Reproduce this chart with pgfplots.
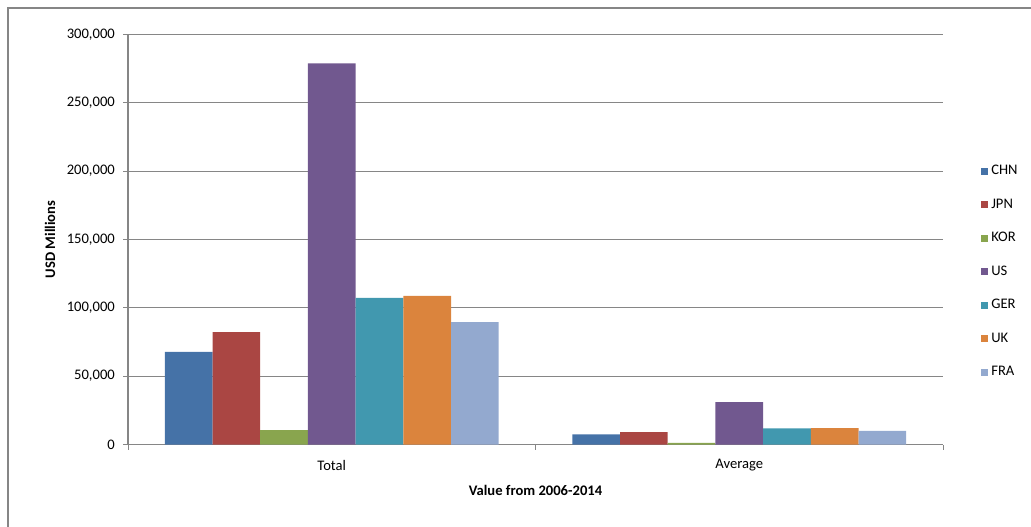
\documentclass[border=0pt]{standalone}
\usepackage{pgfplots}
\pgfplotsset{compat=1.18}
\usepackage{fontspec}
\setmainfont{Carlito}

\definecolor{chn}{HTML}{4572A7}
\definecolor{jpn}{HTML}{AA4643}
\definecolor{kor}{HTML}{89A54E}
\definecolor{usa}{HTML}{71588F}
\definecolor{ger}{HTML}{4198AF}
\definecolor{uk}{HTML}{DB843D}
\definecolor{fra}{HTML}{93A9CF}
\definecolor{axisgray}{HTML}{868686}

\newcommand{\chartfont}{\fontsize{14.6bp}{17bp}\selectfont}

\begin{document}
\begin{tikzpicture}
\useasboundingbox (0,0) rectangle (1031bp,-527bp);
% chart area frame
\draw[axisgray, line width=1.4bp] (8bp,-527bp) -- (8bp,-8bp) -- (1031bp,-8bp);
\begin{axis}[
  at={(128bp,-444.5bp)}, anchor=south west,
  scale only axis, width=815bp, height=410bp,
  font=\chartfont,
  ybar=0pt, bar width=47.7bp,
  xmin=-0.5, xmax=1.5,
  ymin=0, ymax=300000,
  axis x line*=bottom, axis y line*=left,
  axis line style={-, axisgray},
  x axis line style={line width=1.6bp},
  y axis line style={line width=1.3bp},
  tick align=outside,
  major tick length=5bp,
  tick style={axisgray, line width=1bp},
  xtick={-0.5,0.5,1.5}, xticklabels={,,},
  extra x ticks={0,1}, extra x tick labels={Total,Average},
  extra x tick style={major tick length=0pt,
    xticklabel style={anchor=center, yshift=-21bp}},
  ytick={0,50000,...,300000},
  scaled y ticks=false,
  /pgf/number format/.cd, fixed, 1000 sep={,}, assume math mode=true, /pgfplots/.cd,
  yticklabel style={anchor=east, inner sep=0pt, xshift=-8bp},
  ymajorgrids, grid style={axisgray, line width=1bp},
  xlabel={\textbf{Value from 2006-2014}},
  xlabel style={at={(axis description cs:0.5,-0.113)}, anchor=center},
  ylabel={\textbf{USD Millions}},
  ylabel style={at={(axis description cs:-0.0957,0.5)}, anchor=center},
  legend style={draw=none, fill=none, at={(1.0425,0.4215)}, anchor=west,
    font=\chartfont, row sep=20.5bp, column sep=3bp,
    nodes={inner sep=0pt, text height=10bp, text depth=3bp}},
  legend cell align=left,
  legend image code/.code={\fill[#1] (0bp,-3.5bp) rectangle (7.5bp,3.5bp);},
]
\addplot[fill=chn, draw=none] coordinates {(0,67700) (1,7500)};
\addplot[fill=jpn, draw=none] coordinates {(0,82300) (1,9100)};
\addplot[fill=kor, draw=none] coordinates {(0,10600) (1,1150)};
\addplot[fill=usa, draw=none] coordinates {(0,278900) (1,30950)};
\addplot[fill=ger, draw=none] coordinates {(0,107200) (1,11850)};
\addplot[fill=uk,  draw=none] coordinates {(0,108700) (1,12050)};
\addplot[fill=fra, draw=none] coordinates {(0,89600) (1,9900)};
\legend{CHN,JPN,KOR,US,GER,UK,FRA}
\end{axis}
\end{tikzpicture}
\end{document}
